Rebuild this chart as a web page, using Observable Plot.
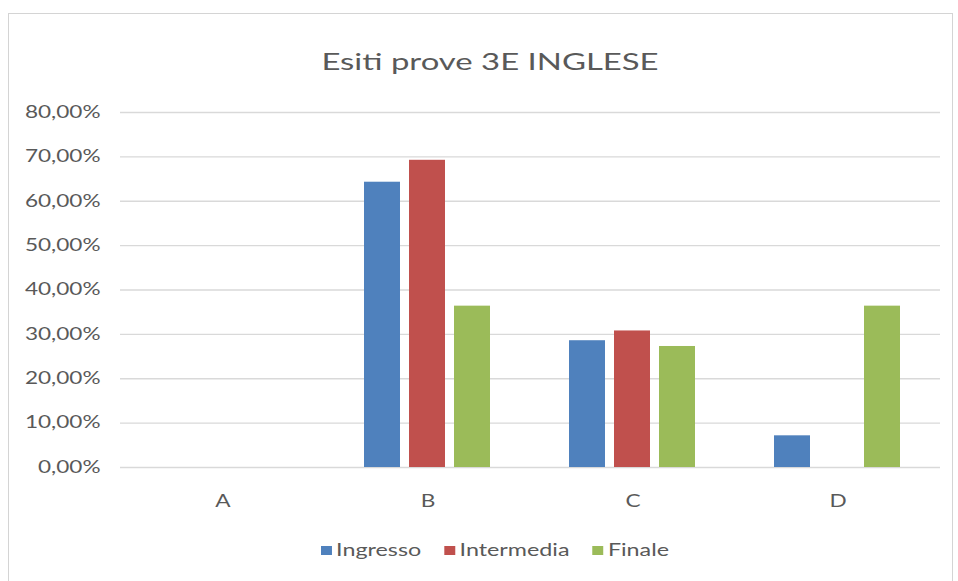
<!DOCTYPE html>
<html>
<head>
<meta charset="utf-8">
<script src="https://cdn.jsdelivr.net/npm/d3@7"></script>
<script src="https://cdn.jsdelivr.net/npm/@observablehq/plot@0.6"></script>
<style>
  html, body { margin: 0; padding: 0; background: #fff; }
  #wrap { position: relative; width: 958px; height: 581px; overflow: hidden; font-family: Lato, "Open Sans", sans-serif; }
  #frame { position: absolute; left: 8px; top: 13px; width: 945px; height: 600px; border: 1px solid #d4d4d4; box-sizing: border-box; }
  #title { position: absolute; left: 290px; top: 46px; width: 400px; text-align: center; font-size: 24px; line-height: 30px; color: #595959; transform: scaleX(1.37); transform-origin: 200px 0; }
  #chart { position: absolute; left: 0; top: 95px; }
  #legend { position: absolute; left: 295px; top: 539px; width: 400px; display: flex; justify-content: center; gap: 17px; font-size: 17px; line-height: 22px; color: #595959; transform: scaleX(1.37); transform-origin: 200px 0; }
  #legend span.item { display: flex; align-items: center; }
  #legend span.sw { display: inline-block; width: 8px; height: 9px; margin-right: 3px; }
</style>
</head>
<body>
<div id="wrap">
  <div id="frame"></div>
  <div id="title">Esiti prove 3E INGLESE</div>
  <div id="chart"></div>
  <div id="legend"></div>
</div>
<script>
const categories = ["A", "B", "C", "D"];
const series = ["Ingresso", "Intermedia", "Finale"];
const colors = ["#4F81BD", "#C0504D", "#9BBB59"];
const ingresso = [0, 64.29, 28.57, 7.14];
const intermedia = [0, 69.23, 30.77, 0];
const finale = [0, 36.36, 27.27, 36.36];
const yTicks = [0, 10, 20, 30, 40, 50, 60, 70, 80];

const values = [ingresso, intermedia, finale];
const data = [];
categories.forEach((c, i) => {
  series.forEach((s, j) => data.push({cat: c, series: s, value: values[j][i]}));
});

const chart = Plot.plot({
  width: 958,
  height: 425,
  marginTop: 17,
  marginBottom: 53,
  marginLeft: 120,
  marginRight: 18,
  style: {fontFamily: "Lato, 'Open Sans', sans-serif", fontSize: "16px", color: "#595959", background: "transparent"},
  fx: {domain: categories, padding: 0, label: null},
  x: {domain: series, paddingInner: 0.19, paddingOuter: 0.85, axis: null},
  y: {domain: [0, 80], label: null},
  color: {domain: series, range: colors},
  marks: [
    Plot.ruleY(yTicks, {stroke: "#d9d9d9", strokeWidth: 1.3}),
    Plot.barY(data, {fx: "cat", x: "series", y: "value", fill: "series"}),
    Plot.axisY({ticks: yTicks, tickSize: 0, tickPadding: 20, label: null,
      tickFormat: d => d.toFixed(2).replace(".", ",") + "%", fontSize: 16.5, fill: "#595959"}),
    Plot.axisFx({anchor: "bottom", tickSize: 0, tickPadding: 28, label: null, fontSize: 16.5, fill: "#595959"})
  ]
});
document.getElementById("chart").appendChild(chart);

// the reference image is stretched horizontally: widen the tick label glyphs to match
const stretch = 1.37;
chart.querySelectorAll("g[aria-label$='tick label'] text").forEach(t => {
  const tr = t.getAttribute("transform") || "";
  const x = +(t.getAttribute("x") || 0);
  t.setAttribute("transform", `${tr} translate(${x},0) scale(${stretch},1) translate(${-x},0)`);
});

const legend = document.getElementById("legend");
series.forEach((s, i) => {
  const item = document.createElement("span");
  item.className = "item";
  const sw = document.createElement("span");
  sw.className = "sw";
  sw.style.background = colors[i];
  item.appendChild(sw);
  item.appendChild(document.createTextNode(s));
  legend.appendChild(item);
});
</script>
</body>
</html>
